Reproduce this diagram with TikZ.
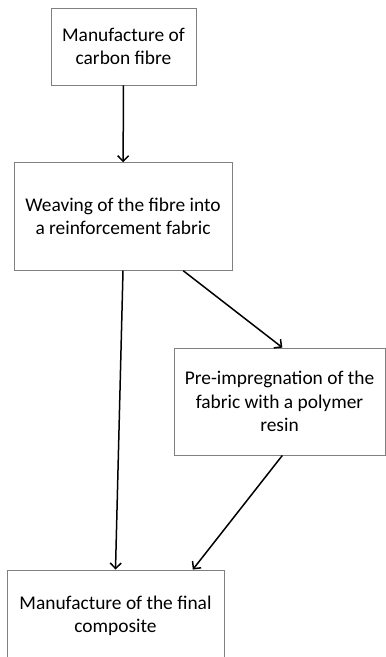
\documentclass[tikz,border=0pt]{standalone}
\usepackage{fontspec}
\setmainfont{Carlito}
\usetikzlibrary{arrows.meta}
\begin{document}
\begin{tikzpicture}[x=1pt,y=-1pt]
\newcommand{\xsp}{1}
\newcommand{\ysp}{1}
\tikzstyle{stage}=[draw=black!50,line width=0.9pt,align=center,inner sep=0pt,font=\fontsize{19.4}{23.5}\selectfont]
\tikzstyle{edge}=[line width=1.5pt,-{Straight Barb[length=5.5pt,width=11pt,line width=1.5pt]}]
\useasboundingbox (0,0) rectangle (386,657);
\node[stage,minimum width=145pt,minimum height=77pt] (0) at (\xsp*123.5,\ysp*46.5) {Manufacture of\\carbon fibre};
\node[stage,minimum width=218pt,minimum height=107.5pt] (1) at (\xsp*123,\ysp*216.5) {Weaving of the fibre into\\a reinforcement fabric};
\node[stage,minimum width=211pt,minimum height=107pt] (2) at (\xsp*279.5,\ysp*401.5) {Pre-impregnation of the\\fabric with a polymer\\resin};
\node[stage,minimum width=217pt,minimum height=92pt] (3) at (\xsp*115.5,\ysp*616) {Manufacture of the final\\composite};
\draw[edge] (0) -- (1);
\draw[edge] (1.south) -- (3.north);
\draw[edge] (1.-42.7) -- (2.87);
\draw[edge] (2.-87) -- (3.31.7);
\end{tikzpicture}
\end{document}
